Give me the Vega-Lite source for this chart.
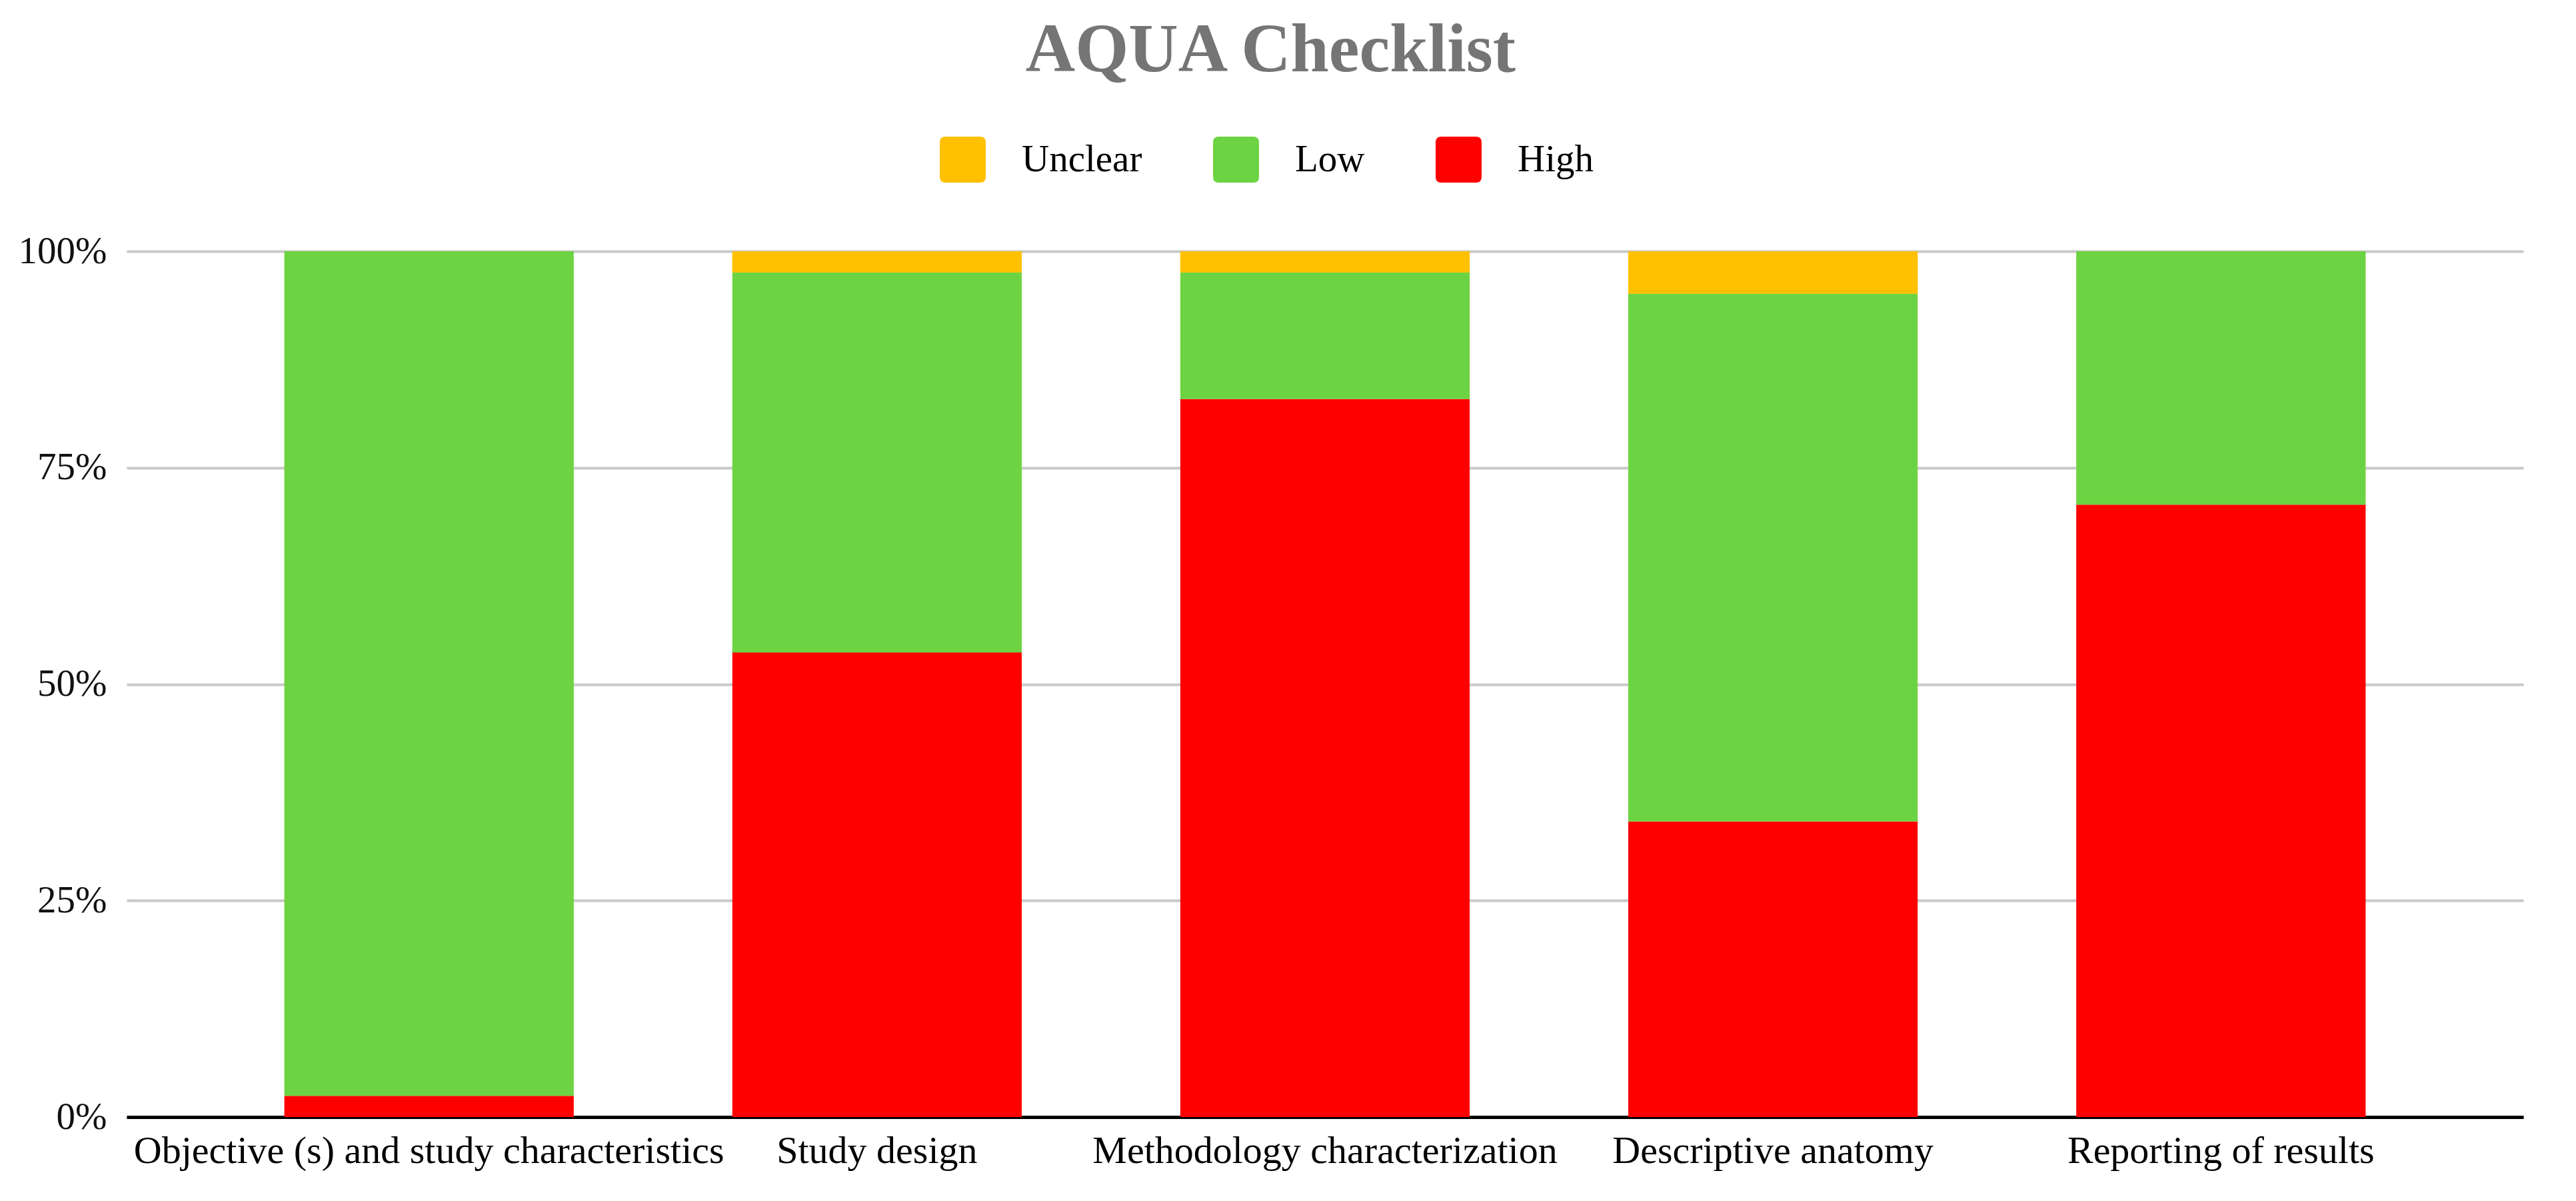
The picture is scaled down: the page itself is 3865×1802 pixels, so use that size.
{
  "$schema": "https://vega.github.io/schema/vega-lite/v6.json",
  "width": 3596,
  "height": 1299,
  "autosize": {"type": "none"},
  "padding": {"left": 190, "top": 377, "right": 79, "bottom": 126},
  "background": "white",
  "title": {
    "text": "AQUA Checklist",
    "font": "Liberation Serif",
    "fontSize": 103,
    "fontWeight": "bold",
    "color": "#757575",
    "anchor": "middle",
    "frame": "bounds",
    "offset": 76
  },
  "data": {
    "values": [
      {"domain": "Objective (s) and study characteristics", "rating": "High", "share": 0.0244},
      {"domain": "Objective (s) and study characteristics", "rating": "Low", "share": 0.9756},
      {"domain": "Objective (s) and study characteristics", "rating": "Unclear", "share": 0},
      {"domain": "Study design", "rating": "High", "share": 0.5366},
      {"domain": "Study design", "rating": "Low", "share": 0.439},
      {"domain": "Study design", "rating": "Unclear", "share": 0.0244},
      {"domain": "Methodology characterization", "rating": "High", "share": 0.8293},
      {"domain": "Methodology characterization", "rating": "Low", "share": 0.1463},
      {"domain": "Methodology characterization", "rating": "Unclear", "share": 0.0244},
      {"domain": "Descriptive anatomy", "rating": "High", "share": 0.3415},
      {"domain": "Descriptive anatomy", "rating": "Low", "share": 0.6097},
      {"domain": "Descriptive anatomy", "rating": "Unclear", "share": 0.0488},
      {"domain": "Reporting of results", "rating": "High", "share": 0.7073},
      {"domain": "Reporting of results", "rating": "Low", "share": 0.2927},
      {"domain": "Reporting of results", "rating": "Unclear", "share": 0}
    ]
  },
  "transform": [
    {
      "stack": "share",
      "groupby": ["domain"],
      "sort": [{"field": "rating", "order": "ascending"}],
      "as": ["y0", "y1"]
    }
  ],
  "encoding": {
    "x": {
      "field": "domain",
      "type": "nominal",
      "sort": null,
      "scale": {"paddingInner": 0.354, "paddingOuter": 0.352},
      "axis": {
        "title": null,
        "labelAngle": 0,
        "labelFont": "Liberation Serif",
        "labelFontSize": 58,
        "labelColor": "#000000",
        "labelPadding": 22,
        "ticks": false,
        "domain": true,
        "domainColor": "#000000",
        "domainWidth": 5,
        "grid": false,
        "labelLimit": 0
      }
    },
    "y": {
      "field": "y0",
      "type": "quantitative",
      "scale": {"domain": [0, 1]},
      "axis": {
        "title": null,
        "format": ".0%",
        "values": [0, 0.25, 0.5, 0.75, 1],
        "labelFont": "Liberation Serif",
        "labelFontSize": 57,
        "labelColor": "#111111",
        "labelPadding": 30,
        "ticks": false,
        "domain": false,
        "grid": true,
        "gridColor": "#c8c8c8",
        "gridWidth": 4
      }
    },
    "y2": {"field": "y1"},
    "color": {
      "field": "rating",
      "type": "nominal",
      "scale": {
        "domain": ["Unclear", "Low", "High"],
        "range": ["#ffc000", "#6cd342", "#ff0000"]
      },
      "legend": {
        "title": null,
        "orient": "none",
        "direction": "horizontal",
        "legendX": 1220,
        "legendY": -172,
        "padding": 0,
        "symbolType": "M -0.75 -1 L 0.75 -1 Q 1 -1 1 -0.75 L 1 0.75 Q 1 1 0.75 1 L -0.75 1 Q -1 1 -1 0.75 L -1 -0.75 Q -1 -1 -0.75 -1 Z",
        "symbolSize": 4761,
        "symbolStrokeWidth": 0,
        "symbolOpacity": 1,
        "labelFont": "Liberation Serif",
        "labelFontSize": 57,
        "labelColor": "#000000",
        "labelOffset": 54,
        "labelLimit": 0,
        "columnPadding": 106
      }
    }
  },
  "layer": [
    {"mark": {"type": "bar"}},
    {
      "transform": [{"filter": "datum.rating === 'Unclear' && datum.share > 0"}],
      "mark": {"type": "bar", "cornerRadiusTopLeft": 10, "cornerRadiusTopRight": 10}
    }
  ],
  "config": {
    "view": {"stroke": null}
  }
}
